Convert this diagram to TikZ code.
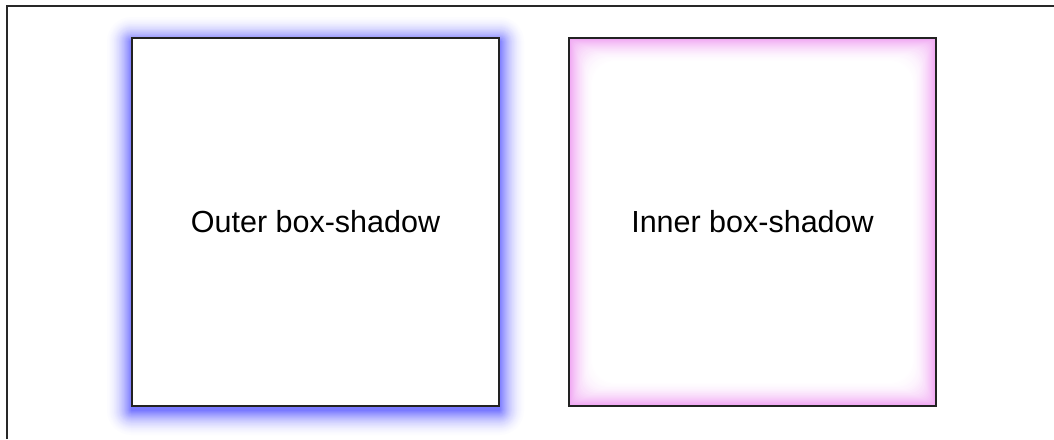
\documentclass[tikz,border=0pt]{standalone}
\usepackage{fontspec}
\setmainfont{Liberation Sans}
\usepackage{xcolor}
\usetikzlibrary{positioning}

\definecolor{edgegray}{RGB}{34,34,34}
\definecolor{framegray}{RGB}{40,40,40}
\definecolor{glowblue}{RGB}{0,0,255}
\definecolor{glowpink}{RGB}{230,110,235}

\begin{document}
\begin{tikzpicture}[
    x=1pt, y=-1pt,
    every node/.style={inner sep=0pt, text centered, font=\fontsize{30.5}{36}\selectfont},
    panel/.style={draw=edgegray, line width=2pt, minimum width=367pt, minimum height=368pt},
    frame/.style={draw=framegray, line width=2pt}
]
\useasboundingbox (0,0) rectangle (1054,439);

% Page frame (cut off right and bottom)
\draw[frame] (7,439) |- (1054,6);

% Outer glow, offset downwards
\foreach \d in {28,27,...,1} {
    \pgfmathtruncatemacro\k{56*(1-\d/29)^2}
    \fill[glowblue!\k!white, rounded corners=\d pt]
        (132-\d,42-\d) rectangle (499+\d,410+\d);
}
\node[panel, fill=white] (outer) at (315.5,222) {Outer box-shadow};

% Inner glow, fading inwards
\foreach \d in {0,1,...,24} {
    \pgfmathtruncatemacro\k{62*(1-\d/25)^1.8}
    \fill[glowpink!\k!white, rounded corners=\d pt]
        (569+\d,38+\d) rectangle (936-\d,406-\d);
}
\node[panel, right=68pt of outer] (inner) {Inner box-shadow};

\end{tikzpicture}
\end{document}
